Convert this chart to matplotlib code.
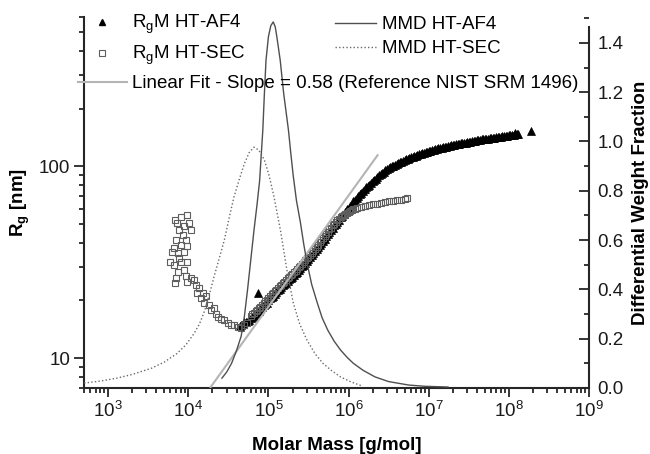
import numpy as np
import matplotlib
matplotlib.use("Agg")
import matplotlib.pyplot as plt
from matplotlib.ticker import (FuncFormatter, NullFormatter, MultipleLocator,
                               FixedLocator, LogFormatterSciNotation)
from matplotlib.lines import Line2D

plt.rcParams['font.family'] = ['Liberation Sans', 'DejaVu Sans']
plt.rcParams['mathtext.fontset'] = 'custom'
plt.rcParams['mathtext.rm'] = 'Liberation Sans'
plt.rcParams['mathtext.it'] = 'Liberation Sans:italic'
plt.rcParams['mathtext.bf'] = 'Liberation Sans:bold'
plt.rcParams['mathtext.default'] = 'regular'

# ---------------- data ----------------
# Rg vs M, HT-AF4 (log10 of molar mass, Rg in nm)
af4_log10M = [4.64, 4.68, 4.72, 4.76, 4.80, 4.84, 4.88, 4.92, 4.96, 5.00,
              5.04, 5.08, 5.12, 5.16, 5.20, 5.24, 5.28, 5.32, 5.36, 5.40,
              5.44, 5.48, 5.52, 5.56, 5.60, 5.64, 5.68, 5.72, 5.76, 5.80,
              5.84, 5.88, 5.92, 5.96, 6.00, 6.04, 6.08, 6.12, 6.16, 6.20,
              6.24, 6.28, 6.32, 6.36, 6.40, 6.44, 6.48, 6.52, 6.56, 6.60,
              6.64, 6.68, 6.72, 6.76, 6.80, 6.84, 6.88, 6.92, 6.96, 7.00,
              7.04, 7.08, 7.12, 7.16, 7.20, 7.24, 7.28, 7.32, 7.36, 7.40,
              7.44, 7.48, 7.52, 7.56, 7.60, 7.64, 7.68, 7.72, 7.76, 7.80,
              7.84, 7.88, 7.92, 7.96, 8.00, 8.04, 8.08, 8.12, 4.87, 8.28,
              4.66, 4.70, 4.74, 4.78, 4.82, 4.86, 4.90, 4.94, 4.98, 5.02,
              5.06, 5.10, 5.14, 5.18, 5.22, 5.26, 5.30, 5.34, 5.38, 5.42,
              5.46, 5.50, 5.54, 5.58, 5.62, 5.66, 5.70, 5.74, 5.78, 5.82,
              5.86, 5.90, 5.94, 5.98, 6.02, 6.06, 6.10, 6.14, 6.18, 6.22,
              6.26, 6.30, 6.34, 6.38, 6.42, 6.46, 6.50, 6.54, 6.58, 6.62,
              6.66, 6.70, 6.74, 6.78, 6.82, 6.86, 6.90, 6.94, 6.98, 7.02,
              7.06, 7.10, 7.14, 7.18, 7.22, 7.26, 7.30, 7.34, 7.38, 7.42,
              7.46, 7.50, 7.54, 7.58, 7.62, 7.66, 7.70, 7.74, 7.78, 7.82,
              7.86, 7.90, 7.94, 7.98, 8.02, 8.06, 8.10]
af4_Rg = [14.8, 15.1, 15.5, 15.9, 16.5, 17.1, 17.7, 18.4, 19.2, 20.0,
          20.9, 21.7, 22.6, 23.5, 24.4, 25.3, 26.2, 27.2, 28.3, 29.5,
          30.8, 32.2, 33.7, 35.3, 37.1, 39.0, 41.0, 43.2, 45.5, 47.8,
          50.3, 52.8, 55.4, 58.1, 61.0, 64.0, 67.0, 70.0, 73.0, 76.0,
          79.0, 82.0, 85.0, 88.0, 91.0, 93.8, 96.4, 98.8, 101.0, 103.0,
          105.0, 107.0, 108.8, 110.5, 112.2, 113.8, 115.4, 117.0, 118.5, 119.9,
          121.3, 122.6, 123.9, 125.1, 126.3, 127.4, 128.5, 129.6, 130.6, 131.6,
          132.6, 133.6, 134.6, 135.5, 136.4, 137.3, 139.5, 138.8, 139.8, 140.8,
          141.6, 142.5, 143.3, 144.2, 145.0, 145.8, 148.5, 147.0, 22.0, 153.0,
          14.9, 15.4, 15.6, 16.3, 16.7, 17.5, 18.0, 18.9, 19.5, 20.5,
          21.2, 22.2, 23.0, 24.0, 24.8, 25.8, 26.6, 27.8, 28.8, 30.2,
          31.4, 33.0, 34.4, 36.3, 38.0, 40.1, 42.0, 44.4, 46.5, 49.2,
          51.4, 54.2, 56.6, 59.7, 62.4, 65.6, 68.4, 71.6, 74.4, 77.6,
          80.4, 83.6, 86.4, 89.6, 92.3, 95.2, 97.5, 100.0, 101.9, 104.1,
          105.9, 108.0, 109.5, 111.5, 112.9, 114.8, 116.1, 117.9, 119.1, 120.7,
          121.8, 123.4, 124.4, 125.8, 126.8, 128.1, 128.9, 130.2, 131.0, 132.2,
          133.0, 134.3, 134.9, 136.1, 136.7, 138.6, 139.0, 139.1, 140.4, 141.0,
          142.2, 142.7, 143.9, 144.4, 145.6, 146.5, 147.6]

# Rg vs M, HT-SEC
sec_log10M = [3.978, 3.907, 3.832, 3.857, 4.011, 4.032, 3.949, 3.886, 3.932, 3.845,
              3.970, 3.907, 3.990, 3.824, 3.791, 3.866, 3.949, 3.886, 3.774, 3.824,
              3.907, 3.990, 3.874, 3.845, 3.832, 3.949, 3.970, 3.990, 4.032, 4.074,
              4.095, 4.136, 4.115, 4.178, 4.157, 4.219, 4.199, 4.261, 4.282, 4.323,
              4.344, 4.365, 4.407, 4.448, 4.490, 4.532, 4.573, 4.615, 4.656, 4.698,
              4.739, 4.78, 4.80, 4.82, 4.84, 4.86, 4.88, 4.90, 4.92, 4.94,
              4.96, 4.98, 5.00, 5.02, 5.04, 5.06, 5.08, 5.10, 5.12, 5.14,
              5.16, 5.18, 5.20, 5.22, 5.24, 5.26, 5.28, 5.30, 5.32, 5.34,
              5.36, 5.38, 5.40, 5.42, 5.44, 5.46, 5.48, 5.50, 5.52, 5.54,
              5.56, 5.58, 5.60, 5.62, 5.64, 5.66, 5.68, 5.70, 5.72, 5.74,
              5.76, 5.78, 5.80, 5.82, 5.84, 5.86, 5.88, 5.90, 5.92, 5.94,
              5.96, 5.98, 6.00, 6.02, 6.04, 6.06, 6.08, 6.10, 6.15, 6.20,
              6.25, 6.30, 6.35, 6.40, 6.45, 6.50, 6.55, 6.60, 6.65, 6.70,
              6.73]
sec_Rg = [56.1, 54.5, 52.8, 50.4, 50.7, 46.8, 48.7, 46.8, 44.1, 41.5,
          41.5, 39.1, 38.3, 37.5, 36.0, 35.3, 36.0, 33.3, 31.9, 30.7,
          31.9, 31.9, 28.3, 26.1, 24.6, 28.9, 26.7, 25.1, 26.1, 25.6,
          24.1, 23.2, 21.8, 21.8, 20.5, 21.0, 19.3, 18.9, 17.8, 18.2,
          17.1, 16.5, 16.1, 15.8, 15.2, 14.9, 14.9, 14.6, 14.3, 14.9,
          15.3, 16.6, 17.0, 17.3, 17.6, 17.9, 18.2, 18.5, 18.9, 19.4,
          19.8, 20.2, 20.6, 21.1, 21.5, 21.9, 22.4, 22.8, 23.3, 23.7,
          24.2, 24.6, 25.1, 25.6, 26.1, 26.5, 27.0, 27.5, 28.0, 28.6,
          29.1, 29.8, 30.4, 31.0, 31.7, 32.4, 33.2, 33.9, 34.7, 35.5,
          36.4, 37.3, 38.2, 39.1, 40.2, 41.2, 42.2, 43.4, 44.5, 45.6,
          46.9, 48.0, 49.2, 50.2, 51.3, 52.3, 53.3, 54.2, 55.0, 55.8,
          56.6, 57.3, 58.0, 58.6, 59.1, 59.6, 60.1, 60.5, 61.4, 62.1,
          62.8, 63.4, 64.0, 64.6, 65.1, 65.6, 66.1, 66.6, 67.1, 67.6,
          68.0]

# Linear fit Rg = a * M^slope (reference NIST SRM 1496)
fit_slope = 0.58
fit_log10_a = -1.632
fit_M_range = [1.9e4, 2.3e6]

# Molar mass distributions (differential weight fraction)
mmd_af4_log10M = [4.42, 4.48, 4.54, 4.60, 4.66, 4.70, 4.74, 4.78, 4.82, 4.86,
                  4.89, 4.93, 4.95, 4.97, 5.00, 5.03, 5.06, 5.085, 5.105, 5.147,
                  5.19, 5.25, 5.28, 5.31, 5.35, 5.40, 5.44, 5.48, 5.54, 5.61,
                  5.67, 5.74, 5.82, 5.90, 5.98, 6.06, 6.18, 6.33, 6.50, 6.75,
                  6.95, 7.24]
mmd_af4_w = [0.04, 0.065, 0.10, 0.15, 0.21, 0.29, 0.40, 0.52, 0.64, 0.75,
             0.84, 1.046, 1.196, 1.33, 1.425, 1.47, 1.485, 1.465, 1.425, 1.33,
             1.196, 1.046, 0.95, 0.86, 0.76, 0.67, 0.585, 0.51, 0.42, 0.345,
             0.285, 0.235, 0.19, 0.154, 0.125, 0.10, 0.072, 0.045, 0.026, 0.012,
             0.007, 0.004]
mmd_sec_log10M = [2.70, 2.90, 3.11, 3.30, 3.54, 3.70, 3.86, 3.97, 4.07, 4.14,
                  4.20, 4.26, 4.32, 4.39, 4.45, 4.51, 4.57, 4.64, 4.70, 4.76,
                  4.82, 4.88, 4.95, 5.01, 5.07, 5.15, 5.23, 5.31, 5.39, 5.48,
                  5.58, 5.68, 5.79, 5.90, 6.03, 6.17]
mmd_sec_w = [0.02, 0.028, 0.04, 0.055, 0.08, 0.105, 0.14, 0.175, 0.22, 0.26,
             0.31, 0.375, 0.45, 0.53, 0.60, 0.69, 0.775, 0.85, 0.91, 0.955,
             0.977, 0.965, 0.925, 0.86, 0.775, 0.64, 0.48, 0.345, 0.26, 0.195,
             0.14, 0.10, 0.07, 0.045, 0.025, 0.008]

x_major_ticks = [1e3, 1e4, 1e5, 1e6, 1e7, 1e8, 1e9]

labels = ['R$_g$M HT-AF4', 'R$_g$M HT-SEC',
          'Linear Fit - Slope = 0.58 (Reference NIST SRM 1496)',
          'MMD HT-AF4', 'MMD HT-SEC']

# ---------------- figure ----------------
W, H = 650, 454
fig = plt.figure(figsize=(W / 100, H / 100), dpi=100)
ax = fig.add_axes([84 / W, 66 / H, 505 / W, 371 / H])
ax.set_xscale('log')
ax.set_yscale('log')
ax.set_xlim(500, 1e9)
ax.set_ylim(7, 600)

spine_c = '#262626'
FS = 13.5
sec_c = '#5e5e5e'

# scatter data
ax.plot(10 ** np.array(af4_log10M), af4_Rg, linestyle='none', marker='^',
        ms=5.4, mfc='black', mec='black', mew=0.5, zorder=2)
ax.plot(10 ** np.array(sec_log10M), sec_Rg, linestyle='none', marker='s',
        ms=4.8, mfc='none', mec=sec_c, mew=0.8, zorder=3)
fm = np.array(fit_M_range)
ax.plot(fm, 10 ** fit_log10_a * fm ** fit_slope, color='#b4b4b4', lw=1.5, zorder=4)

# axes styling
for s in ['top', 'right']:
    ax.spines[s].set_visible(False)
for s in ['left', 'bottom']:
    ax.spines[s].set_linewidth(1.5)
    ax.spines[s].set_color(spine_c)
ax.xaxis.set_major_locator(FixedLocator(x_major_ticks))
ax.xaxis.set_major_formatter(LogFormatterSciNotation())
minor_x = [m * 10.0 ** e for e in range(2, 9) for m in range(2, 10)]
ax.xaxis.set_minor_locator(FixedLocator([v for v in minor_x if 500 <= v <= 1e9]))
ax.xaxis.set_minor_formatter(NullFormatter())
ax.yaxis.set_major_formatter(FuncFormatter(lambda v, p: f'{v:g}'))
ax.yaxis.set_minor_formatter(NullFormatter())
ax.tick_params(axis='both', which='both', direction='out', colors=spine_c,
               labelcolor='#1a1a1a', labelsize=FS, width=1.3)
ax.tick_params(axis='x', which='major', length=6.5, pad=3)
ax.tick_params(axis='x', which='minor', length=3.5)
ax.tick_params(axis='y', which='major', length=7, pad=3)
ax.tick_params(axis='y', which='minor', length=3.5)

ax.set_xlabel('Molar Mass [g/mol]', fontsize=FS, fontweight='bold', labelpad=11)
ax.set_ylabel(r'R$_\mathbf{g}$ [nm]', fontsize=FS, fontweight='bold', labelpad=5)

# right axis: MMD
ax2 = ax.twinx()
ax2.set_ylim(0, 1.505)
ax2.plot(10 ** np.array(mmd_af4_log10M), mmd_af4_w, color='#4f4f4f', lw=1.0, zorder=5)
ax2.plot(10 ** np.array(mmd_sec_log10M), mmd_sec_w, color='#6a6a6a', lw=1.0,
         linestyle=(0, (1, 1.6)), zorder=5)
for s in ['top', 'left', 'bottom']:
    ax2.spines[s].set_visible(False)
ax2.spines['right'].set_linewidth(1.5)
ax2.spines['right'].set_color(spine_c)
ax2.spines['right'].set_bounds(0, 1.465)
ax2.yaxis.set_major_locator(MultipleLocator(0.2))
ax2.yaxis.set_minor_locator(MultipleLocator(0.1))
ax2.yaxis.set_major_formatter(FuncFormatter(lambda v, p: f'{v:.1f}'))
ax2.tick_params(axis='y', which='both', direction='in', colors=spine_c,
                labelcolor='#1a1a1a', labelsize=FS, width=1.3, pad=6)
ax2.tick_params(axis='y', which='major', length=7)
ax2.tick_params(axis='y', which='minor', length=3.5)
ax2.set_ylabel('Differential Weight Fraction', fontsize=FS, fontweight='bold', labelpad=6)

# legends
h_tri = Line2D([], [], linestyle='none', marker='^', ms=5, mfc='black', mec='black')
h_sq = Line2D([], [], linestyle='none', marker='s', ms=4.8, mfc='none', mec=sec_c, mew=0.8)
h_fit = Line2D([], [], color='#b4b4b4', lw=1.5)
h_m1 = Line2D([], [], color='#4f4f4f', lw=1.0)
h_m2 = Line2D([], [], color='#6a6a6a', lw=1.0, linestyle=(0, (1, 1.6)))

leg1 = ax2.legend([h_tri, h_sq, h_fit], labels[:3], loc='upper left',
                  bbox_to_anchor=(78 / W, 1 - 13 / H), bbox_transform=fig.transFigure,
                  frameon=False, fontsize=FS, handlelength=2.6, handletextpad=0.3,
                  labelspacing=0.42, borderpad=0, borderaxespad=0)
ax2.add_artist(leg1)
leg2 = ax2.legend([h_m1, h_m2], labels[3:], loc='upper left',
                  bbox_to_anchor=(335 / W, 1 - 16 / H), bbox_transform=fig.transFigure,
                  frameon=False, fontsize=FS, handlelength=2.2, handletextpad=0.3,
                  labelspacing=0.37, borderpad=0, borderaxespad=0)

fig.savefig('out.png', dpi=100)
